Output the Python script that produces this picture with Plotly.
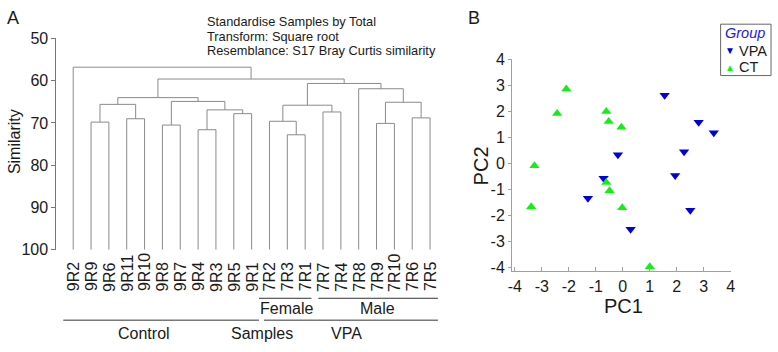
import plotly.graph_objects as go

W, H = 778, 352

# ---------------- data ----------------
leaf_labels = ["9R2", "9R9", "9R6", "9R11", "9R10", "9R8", "9R7", "9R4", "9R3", "9R5", "9R1",
               "7R2", "7R3", "7R1", "7R7", "7R4", "7R8", "7R9", "7R10", "7R6", "7R5"]
# merges: (child_a, child_b, similarity); new cluster ids start at len(leaf_labels)
merge_a = [1, 3, 21, 5, 7, 9, 25, 24, 23, 12, 11, 14, 31, 17, 19, 34, 16, 33, 29, 0]
merge_b = [2, 4, 22, 6, 8, 10, 26, 27, 28, 13, 30, 15, 32, 18, 20, 35, 36, 37, 38, 39]
merge_h = [69.8, 69.0, 65.6, 70.5, 71.6, 67.8, 66.9, 64.9, 64.0, 72.8, 69.6, 67.4, 65.8,
           70.1, 68.8, 65.1, 61.9, 60.65, 59.6, 56.8]
sim_ticks = [50, 60, 70, 80, 90, 100]

vpa_pc1 = [1.55, 2.81, 3.37, 2.27, -0.18, -0.71, 1.94, -1.29, 2.50, 0.29]
vpa_pc2 = [2.61, 1.58, 1.18, 0.45, 0.33, -0.57, -0.46, -1.34, -1.80, -2.53]
ct_pc1 = [-2.09, -2.43, -0.61, -0.52, -0.05, -3.27, -0.61, -0.49, -3.39, -0.02, 1.00]
ct_pc2 = [2.85, 1.91, 1.99, 1.61, 1.39, -0.09, -0.73, -1.05, -1.66, -1.70, -3.96]
pc_ticks = [-4, -3, -2, -1, 0, 1, 2, 3, 4]
pc_ticktext = ["-4", "-3", "-2", "-1", "0", "1", "2", "3", "4"]

# ---------------- helpers ----------------
def fx(p):
    return p / W

def fy(p):
    return 1 - p / H

FONT = "Liberation Sans, Arial, sans-serif"
TXT = "#1a1a1a"
BLUE = "#0000DD"
GREEN = "#15EE15"

# dendrogram segments
n = len(leaf_labels)
pos = {i: float(i) for i in range(n)}
hgt = {i: 100.0 for i in range(n)}
dx, dy = [], []
for k, (a, b, h) in enumerate(zip(merge_a, merge_b, merge_h)):
    xa, xb = pos[a], pos[b]
    dx += [xa, xa, xb, xb, None]
    dy += [hgt[a], h, h, hgt[b], None]
    pos[n + k] = (xa + xb) / 2
    hgt[n + k] = h

fig = go.Figure()
fig.add_trace(go.Scatter(x=dx, y=dy, mode="lines", line=dict(color="#8a8a8a", width=1),
                         xaxis="x", yaxis="y", showlegend=False, hoverinfo="skip"))
fig.add_trace(go.Scatter(x=vpa_pc1, y=vpa_pc2, mode="markers", name="VPA",
                         marker=dict(symbol="triangle-down", size=9, color=BLUE),
                         xaxis="x2", yaxis="y2", showlegend=False))
fig.add_trace(go.Scatter(x=ct_pc1, y=ct_pc2, mode="markers", name="CT",
                         marker=dict(symbol="triangle-up", size=9, color=GREEN),
                         xaxis="x2", yaxis="y2", showlegend=False))

ann = []
def text(x, y, s, size=16, xanchor="center", yanchor="middle", angle=0, color=TXT, xref="paper", yref="paper"):
    ann.append(dict(x=x, y=y, xref=xref, yref=yref, text=s, showarrow=False,
                    xanchor=xanchor, yanchor=yanchor, textangle=angle,
                    font=dict(family=FONT, size=size, color=color)))

# leaf labels
for i, lab in enumerate(leaf_labels):
    text(i, fy(300), lab, size=16, yanchor="bottom", angle=-90, xref="x")

# panel A texts
text(fx(9), fy(11), "A", size=18)
text(fx(203), fy(14), "Standardise Samples by Total", size=12.8, xanchor="left")
text(fx(203), fy(29.5), "Transform: Square root", size=12.8, xanchor="left")
text(fx(203), fy(45), "Resemblance: S17 Bray Curtis similarity", size=12.8, xanchor="left")
text(fx(10), fy(140), "Similarity", size=16, angle=-90)
text(fx(286), fy(316), "Female", size=16)
text(fx(378), fy(316), "Male", size=16)
text(fx(142), fy(342), "Control", size=16)
text(fx(261), fy(342), "Samples", size=16)
text(fx(347), fy(342), "VPA", size=16)

# panel B texts
text(fx(475), fy(10), "B", size=18)
text(fx(627), fy(313), "PC1", size=20)
text(fx(483), fy(166), "PC2", size=20, angle=-90)

# legend (drawn as text + frame)
text(fx(750), fy(26), "<i>Group</i>", size=14.5, color="#2020E0")
text(fx(734), fy(45), "▼", size=10, color=BLUE)
text(fx(742), fy(45), "VPA", size=14.5, xanchor="left")
text(fx(734), fy(62), "▲", size=10, color=GREEN)
text(fx(742), fy(62), "CT", size=14.5, xanchor="left")

shapes = []
def hline(x0, x1, y, color="#333333"):
    shapes.append(dict(type="line", xref="paper", yref="paper", x0=fx(x0), x1=fx(x1),
                       y0=fy(y), y1=fy(y), line=dict(color=color, width=1)))

hline(258, 311, 305)
hline(318, 439, 305)
hline(60, 258, 328)
hline(263, 439, 328)
shapes.append(dict(type="rect", xref="paper", yref="paper", x0=fx(725), x1=fx(776),
                   y0=fy(71), y1=fy(17), line=dict(color="#666666", width=1)))

fig.update_layout(
    width=W, height=H,
    margin=dict(l=0, r=0, t=0, b=0),
    paper_bgcolor="white", plot_bgcolor="white",
    showlegend=False,
    font=dict(family=FONT, color=TXT),
    xaxis=dict(domain=[fx(53), fx(450)], range=[-0.942, 21.05], visible=False, anchor="y"),
    yaxis=dict(domain=[fy(254), fy(32)], range=[100, 50], anchor="x",
               tickvals=sim_ticks, showline=True, linecolor="#777777", linewidth=1,
               ticks="outside", ticklen=4, tickcolor="#777777",
               showgrid=False, zeroline=False, tickfont=dict(size=16, color=TXT)),
    xaxis2=dict(domain=[fx(514), fx(735.3)], range=[-4.1, 4.0], anchor="y2",
                tickvals=pc_ticks, ticktext=pc_ticktext, showline=True, linecolor="#a0a0a0",
                ticks="inside", ticklen=4, tickcolor="#a0a0a0", showgrid=False, zeroline=False,
                tickfont=dict(size=16, color=TXT)),
    yaxis2=dict(domain=[fy(276.7), fy(53.7)], range=[-4.14, 4.0], anchor="x2",
                tickvals=pc_ticks, ticktext=pc_ticktext, showline=True, linecolor="#a0a0a0",
                ticks="outside", ticklen=3, tickcolor="#a0a0a0", showgrid=False, zeroline=False,
                tickfont=dict(size=16, color=TXT)),
    annotations=ann,
    shapes=shapes,
)

css_fix = ("var s=document.createElement('style');"
           "s.textContent='html,body{margin:0;padding:0;overflow:hidden;}';"
           "document.head.appendChild(s);")
fig.write_html("out.html", config={"displayModeBar": False}, post_script=css_fix)
